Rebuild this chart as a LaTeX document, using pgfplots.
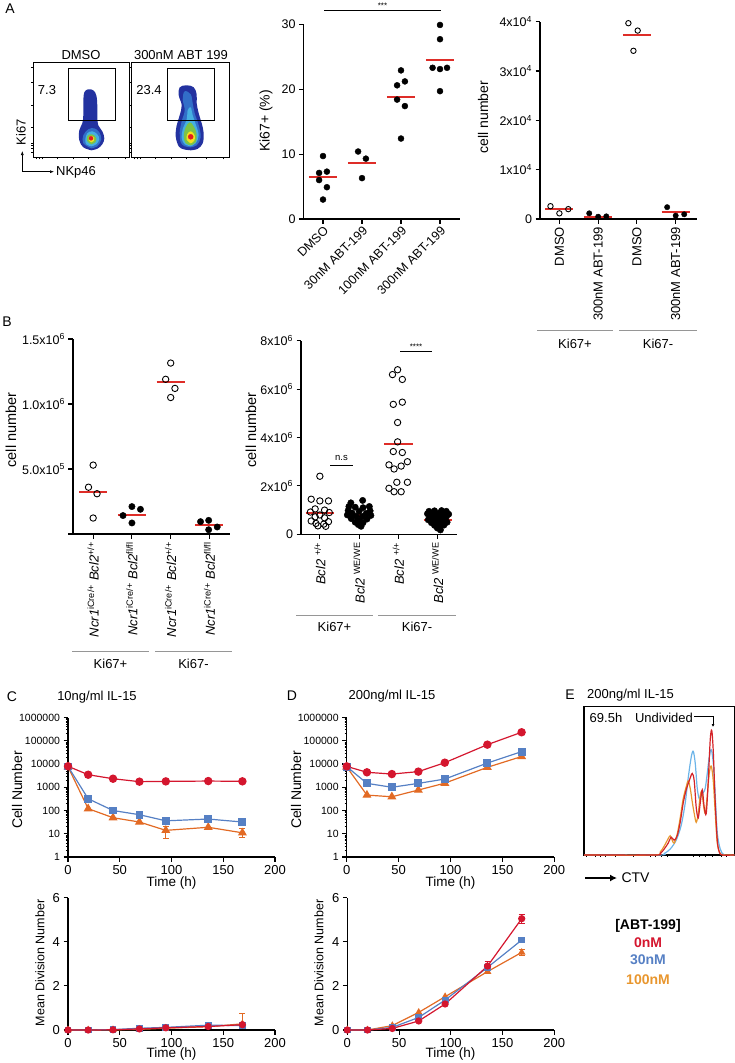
\documentclass[border=0pt]{standalone}
\usepackage{fontspec}
\setmainfont{Liberation Sans}
\usepackage{pgfplots}
\pgfplotsset{compat=1.18}
\usetikzlibrary{arrows.meta}

\definecolor{mred}{RGB}{222,45,40}
\definecolor{cred}{RGB}{212,22,46}
\definecolor{cblue}{RGB}{86,128,196}
\definecolor{corange}{RGB}{226,106,36}
\definecolor{hred}{RGB}{212,35,40}
\definecolor{hblue}{RGB}{108,180,232}
\definecolor{horange}{RGB}{232,150,46}
\definecolor{grp}{RGB}{150,150,150}
\definecolor{flblue}{RGB}{35,50,160}
\definecolor{flmid}{RGB}{50,110,200}
\definecolor{flcyan}{RGB}{70,175,225}
\definecolor{flgreen}{RGB}{125,195,70}
\definecolor{flyellow}{RGB}{245,225,30}
\definecolor{flred}{RGB}{225,30,30}

\newcommand\fs[1]{\fontsize{#1}{#1}\selectfont}

\pgfplotsset{
  prism/.style={scale only axis, anchor=south west, clip=false, enlargelimits=false,
    axis lines*=left, axis line style={line width=1.3pt},
    tick align=outside, major tick length=4.5pt, minor tick length=2.2pt,
    tick style={black, line width=1.1pt}, minor tick style={line width=0.6pt},
    tick label style={font=\fs{12.5}},
    /pgf/number format/assume math mode=true, scaled ticks=false},
  meanline/.style={mred, line width=2pt, forget plot},
  filled/.style={only marks, mark=*, black, mark size=3pt},
  opened/.style={only marks, mark=o, black, mark size=3pt, mark options={line width=0.9pt, fill=white}},
  flow/.style={scale only axis, anchor=south west, clip=false, enlargelimits=false,
    width=96pt, height=94.3pt, xmin=0, xmax=96, ymin=0, ymax=94.3,
    axis line style={line width=1pt}, tick align=outside, tick pos=left,
    major tick length=2pt, tick style={black, line width=0.6pt},
    xticklabels={}, yticklabels={},
    xtick={3,6,9,24,40,55,75,92}, ytick={5,9,12,14,30,52,75,90}},
  blob/.style={draw=none, fill=#1, smooth, tension=0.6, forget plot},
  sred/.style={cred, line width=1.2pt, mark=*, mark size=3.6pt},
  sblue/.style={cblue, line width=1.2pt, mark=square*, mark size=3.3pt},
  sorange/.style={corange, line width=1.2pt, mark=triangle*, mark size=4pt},
  errs/.style={error bars/.cd, y dir=both, y explicit,
    error bar style={line width=1pt}, error mark options={rotate=90, mark size=3pt, line width=1pt}},
  logy/.style={ymin=1, ymax=1e6,
    ytick={1,10,100,1000,10000,100000,1000000},
    yticklabels={1,10,100,1000,10000,100000,1000000},
    yticklabel style={font=\fs{10.5}},
    minor ytick={2,3,4,5,6,7,8,9,20,30,40,50,60,70,80,90,200,300,400,500,600,700,800,900,2000,3000,4000,5000,6000,7000,8000,9000,20000,30000,40000,50000,60000,70000,80000,90000,200000,300000,400000,500000,600000,700000,800000,900000},
    xmin=0, xmax=200, xtick={0,50,100,150,200}, xticklabel style={font=\fs{13}}},
  divy/.style={ymin=0, ymax=6, ytick={0,2,4,6}, xmin=0, xmax=200, xtick={0,50,100,150,200},
    tick label style={font=\fs{13}}},
}

\begin{document}
\begin{tikzpicture}[x=1pt, y=-1pt]
\path[use as bounding box] (0,0) rectangle (735,1063);

% ---------------- A: flow plots
\begin{axis}[flow, at={(33.3pt,-157.3pt)}]
\addplot[blob=flblue] coordinates {(58,7)(64,8.5)(69,13)(71,19)(69,26)(65,32)(64,40)(64,52)(63,62)(60,67)(55,68)(51,65)(50,55)(50,42)(49,34)(46,27)(46,17)(50,10)(58,7)};
\addplot[blob=flmid] coordinates {(58,9)(64,11)(68,18)(66,25)(61,29)(55,28)(50,22)(50,14)(58,9)};
\addplot[blob=flcyan] coordinates {(58,11)(63,13)(66,18)(64,23)(59,26)(54,24)(52,18)(53,13)(58,11)};
\addplot[blob=flgreen] coordinates {(58,13)(62,15)(63,19)(61,22)(57,23)(54,21)(54,16)(58,13)};
\addplot[blob=flyellow] coordinates {(58,15)(60.5,16.5)(61,19.5)(58,21.5)(55.5,20)(55.5,17)(58,15)};
\addplot[only marks, mark=*, flred, mark size=2pt] coordinates {(57.7,19)};
\draw[line width=1pt] (axis cs:35,37) rectangle (axis cs:82.4,88.6);
\end{axis}
\begin{axis}[flow, at={(131.7pt,-157.3pt)}, width=97.6pt, xmax=97.6]
\addplot[blob=flblue] coordinates {(59,7)(66,8.5)(71,14)(72,24)(70,34)(67,44)(65,54)(65,63)(62,70)(55,72)(48,70)(47,62)(50,52)(48,42)(45,32)(44,21)(47,11)(52,8)(59,7)};
\addplot[blob=flmid] coordinates {(59,10)(65,12)(69,20)(67,32)(63,44)(61,54)(59,63)(53,66)(51,58)(53,47)(50,36)(48,25)(49,15)(53,11)(59,10)};
\addplot[blob=flcyan] coordinates {(59,11)(64,14)(67,22)(64,33)(61,42)(59,50)(56,47)(55,38)(51,28)(50,19)(53,13)(59,11)};
\addplot[blob=flgreen] coordinates {(59,12)(64,15)(65,23)(62,31)(58,35)(54,30)(52,21)(54,14)(59,12)};
\addplot[blob=flyellow] coordinates {(59,14)(62.5,16.5)(63,22)(59,26)(55.5,23)(55,17.5)(59,14)};
\addplot[only marks, mark=*, flred, mark size=2.5pt] coordinates {(59,20.5)};
\draw[line width=1pt] (axis cs:35.6,37) rectangle (axis cs:82.3,88.6);
\end{axis}
\node[font=\fs{14}] at (10,9) {A};
\node[font=\fs{13}] at (81,55) {DMSO};
\node[font=\fs{13}] at (181,55) {300nM ABT 199};
\node[font=\fs{13}] at (47,90) {7.3};
\node[font=\fs{13}] at (149,90) {23.4};
\draw[line width=0.6pt, -{Latex[length=4pt,width=3pt]}] (22.3,171.7) -- (22.3,151);
\draw[line width=0.6pt, -{Latex[length=4pt,width=3pt]}] (22.3,171.7) -- (54,171.7);
\node[rotate=90, font=\fs{13}] at (21,132) {Ki67};
\node[font=\fs{13}] at (76,172) {NKp46};

% ---------------- A: Ki67+ (%)
\begin{axis}[prism, at={(303.5pt,-219pt)}, width=156pt, height=194.7pt,
  xmin=-0.5, xmax=3.5, ymin=0, ymax=30, ytick={0,10,20,30},
  xtick={0,1,2,3}, xticklabels={DMSO,30nM ABT-199,100nM ABT-199,300nM ABT-199},
  xticklabel style={rotate=45, anchor=north east, inner sep=1pt}]
\addplot[filled] coordinates {(0,9.7)(-0.1,7.1)(0.1,7.3)(-0.1,6.0)(0.1,4.9)(0,3.0)};
\addplot[filled] coordinates {(0.9,10.4)(1.1,9.3)(1,6.3)};
\addplot[filled] coordinates {(2,22.9)(1.9,20.6)(2.1,21.2)(1.9,18.4)(2.1,17.4)(2,12.4)};
\addplot[filled] coordinates {(3,29.9)(3,27.7)(2.81,23.3)(3,23.1)(3.18,23.3)(3,19.7)};
\addplot[meanline] coordinates {(-0.36,6.4)(0.36,6.4)};
\addplot[meanline] coordinates {(0.64,8.7)(1.36,8.7)};
\addplot[meanline] coordinates {(1.64,18.8)(2.36,18.8)};
\addplot[meanline] coordinates {(2.64,24.5)(3.36,24.5)};
\end{axis}
\draw[line width=0.8pt] (324,10.7) -- (441,10.7);
\node[font=\fs{8}] at (382.5,5.5) {***};
\node[rotate=90, font=\fs{14}] at (266,121) {Ki67+ (\%)};

% ---------------- A: cell number
\begin{axis}[prism, at={(540pt,-219pt)}, width=157pt, height=197.3pt,
  xmin=-0.5, xmax=3.55, ymin=0, ymax=40000,
  ytick={0,10000,20000,30000,40000},
  yticklabels={0,1x10\textsuperscript{4},2x10\textsuperscript{4},3x10\textsuperscript{4},4x10\textsuperscript{4}},
  xtick={0,1,2,3}, xticklabels={DMSO,300nM ABT-199,DMSO,300nM ABT-199},
  xticklabel style={rotate=90, anchor=east, font=\fs{13}}]
\addplot[opened, mark size=2.7pt] coordinates {(-0.23,2600)(0.0,1150)(0.23,2000)};
\addplot[filled, mark size=2.7pt] coordinates {(0.77,1150)(1.0,470)(1.21,540)};
\addplot[opened, mark size=2.7pt] coordinates {(1.78,39700)(2.02,38200)(1.91,34100)};
\addplot[filled, mark size=2.7pt] coordinates {(2.78,2400)(3.0,680)(3.22,950)};
\addplot[meanline] coordinates {(-0.36,1960)(0.36,1960)};
\addplot[meanline] coordinates {(0.64,500)(1.36,500)};
\addplot[meanline] coordinates {(1.64,37400)(2.36,37400)};
\addplot[meanline] coordinates {(2.64,1350)(3.36,1350)};
\end{axis}
\node[rotate=90, font=\fs{14}] at (483,117) {cell number};
\draw[grp, line width=1pt] (537,330) -- (613,330);
\draw[grp, line width=1pt] (619,330) -- (697,330);
\node[font=\fs{13}] at (575,344) {Ki67+};
\node[font=\fs{13}] at (658,344) {Ki67-};

% ---------------- B: Ncr1 cell number
\begin{axis}[prism, at={(73pt,-534pt)}, width=157pt, height=195pt,
  xmin=-0.52, xmax=3.53, ymin=0, ymax=1500000,
  ytick={0,500000,1000000,1500000},
  yticklabels={,5.0x10\textsuperscript{5},1.0x10\textsuperscript{6},1.5x10\textsuperscript{6}},
  xtick={0,1,2,3},
  xticklabels={\textit{Ncr1}\textsuperscript{iCre/+} \textit{Bcl2}\textsuperscript{+/+},
    \textit{Ncr1}\textsuperscript{iCre/+} \textit{Bcl2}\textsuperscript{fl/fl},
    \textit{Ncr1}\textsuperscript{iCre/+} \textit{Bcl2}\textsuperscript{+/+},
    \textit{Ncr1}\textsuperscript{iCre/+} \textit{Bcl2}\textsuperscript{fl/fl}},
  xticklabel style={rotate=90, anchor=east, font=\fs{13}}]
\addplot[opened, mark size=3.2pt] coordinates {(0,530000)(-0.12,360000)(0.1,310000)(0,123000)};
\addplot[filled, mark size=3.2pt] coordinates {(0.77,142000)(1.0,211000)(1.22,190000)(1.0,85000)};
\addplot[opened, mark size=3.2pt] coordinates {(2,1315000)(1.87,1190000)(2.11,1120000)(2,1050000)};
\addplot[filled, mark size=3.2pt] coordinates {(2.77,95000)(2.98,105000)(2.98,33000)(3.2,54000)};
\addplot[meanline] coordinates {(-0.36,320000)(0.36,320000)};
\addplot[meanline] coordinates {(0.64,148000)(1.36,148000)};
\addplot[meanline] coordinates {(1.64,1170000)(2.36,1170000)};
\addplot[meanline] coordinates {(2.64,72000)(3.36,72000)};
\end{axis}
\node[font=\fs{14}] at (7,322) {B};
\node[rotate=90, font=\fs{14.5}] at (11,430) {cell number};
\draw[grp, line width=1pt] (72,651.7) -- (149,651.7);
\draw[grp, line width=1pt] (155,651.7) -- (232,651.7);
\node[font=\fs{13}] at (110.5,664) {Ki67+};
\node[font=\fs{13}] at (193.5,664) {Ki67-};

% ---------------- B: Bcl2 WE cell number
\begin{axis}[prism, at={(301pt,-534.3pt)}, width=156.3pt, height=193.6pt,
  xmin=-0.48, xmax=3.5, ymin=0, ymax=8000000,
  ytick={0,2000000,4000000,6000000,8000000},
  yticklabels={0,2x10\textsuperscript{6},4x10\textsuperscript{6},6x10\textsuperscript{6},8x10\textsuperscript{6}},
  xtick={0,1,2,3},
  xticklabels={\textit{Bcl2} \textsuperscript{+/+},\textit{Bcl2} \textsuperscript{WE/WE},\textit{Bcl2} \textsuperscript{+/+},\textit{Bcl2} \textsuperscript{WE/WE}},
  xticklabel style={rotate=90, anchor=east, font=\fs{13}}]
\addplot[opened, mark size=3.2pt] coordinates {(0,2.4e6)(-0.22,1.45e6)(0,1.38e6)(0.22,1.38e6)(-0.12,1.05e6)(0.12,1.0e6)(-0.24,0.92e6)(0.24,0.9e6)(0,0.8e6)(-0.12,0.72e6)(0.12,0.68e6)(-0.22,0.55e6)(0.22,0.52e6)(-0.1,0.45e6)(0.1,0.42e6)(-0.05,0.35e6)(0.15,0.33e6)};
\addplot[filled, mark size=3.2pt] coordinates {(1.09,1.4e6)(0.79,1.3e6)(0.74,1.15e6)(1.26,1.15e6)(0.9,1.12e6)(1.1,1.1e6)(0.72,0.98e6)(1.28,0.97e6)(1,0.95e6)(0.82,0.88e6)(1.18,0.86e6)(0.7,0.8e6)(1.3,0.78e6)(0.92,0.75e6)(1.08,0.73e6)(0.8,0.65e6)(1.2,0.63e6)(1,0.58e6)(0.9,0.5e6)(1.1,0.48e6)(0.98,0.4e6)(1.05,0.33e6)};
\addplot[opened, mark size=3.2pt] coordinates {(1.98,6.8e6)(1.85,6.6e6)(2.1,6.4e6)(1.87,5.37e6)(2.1,5.46e6)(1.98,4.62e6)(1.98,3.82e6)(1.87,3.42e6)(2.1,3.38e6)(1.76,2.87e6)(2.23,3.0e6)(1.89,2.7e6)(2.07,2.82e6)(1.76,1.9e6)(1.89,1.76e6)(2.07,1.76e6)(1.96,2.15e6)(2.23,2.15e6)};
\addplot[filled, mark size=3.2pt] coordinates {(2.78,0.95e6)(2.92,0.97e6)(3.1,0.98e6)(3.22,0.95e6)(2.74,0.85e6)(2.88,0.84e6)(3.02,0.86e6)(3.16,0.84e6)(3.28,0.83e6)(2.8,0.72e6)(2.94,0.73e6)(3.08,0.71e6)(3.22,0.72e6)(2.76,0.6e6)(2.9,0.61e6)(3.04,0.59e6)(3.18,0.6e6)(2.84,0.48e6)(2.98,0.49e6)(3.12,0.47e6)(3.24,0.5e6)(2.92,0.37e6)(3.06,0.36e6)(3.16,0.38e6)(2.99,0.26e6)(3.07,0.18e6)};
\addplot[meanline] coordinates {(-0.36,0.9e6)(0.36,0.9e6)};
\addplot[meanline] coordinates {(0.64,0.8e6)(1.36,0.8e6)};
\addplot[meanline] coordinates {(1.64,3.72e6)(2.36,3.72e6)};
\addplot[meanline] coordinates {(2.64,0.6e6)(3.36,0.6e6)};
\end{axis}
\node[rotate=90, font=\fs{14.5}] at (251,430) {cell number};
\draw[line width=0.8pt] (330,465) -- (353,465);
\node[font=\fs{9.5}] at (341.5,458) {n.s};
\draw[line width=0.8pt] (400,351.7) -- (432,351.7);
\node[font=\fs{8}] at (416,346.5) {****};
\draw[grp, line width=1pt] (296,615) -- (373,615);
\draw[grp, line width=1pt] (378,615) -- (456,615);
\node[font=\fs{13}] at (334.5,627) {Ki67+};
\node[font=\fs{13}] at (417,627) {Ki67-};

% ---------------- C: 10 ng/ml IL-15
\begin{axis}[prism, ymode=log, logy, at={(68pt,-857pt)}, width=207pt, height=139.5pt]
\addplot[sorange, errs] coordinates {(0,7600) (19.5,120) (43.5,49) (69,32) (94.5,14) += (0,6) -= (0,8) (135.5,19) (168.5,11) += (0,6) -= (0,4)};
\addplot[sblue, errs] coordinates {(0,7800) (19.5,320) (43.5,100) (69,66) (94.5,36) (135.5,43) (168.5,32) += (0,6) -= (0,6)};
\addplot[sred] coordinates {(0,8000)(19.5,3460)(43.5,2330)(69,1740)(94.5,1790)(135.5,1850)(168.5,1800)};
\end{axis}
\node[font=\fs{14}] at (12,697) {C};
\node[font=\fs{13}] at (97,697) {10ng/ml IL-15};
\node[rotate=90, font=\fs{14}] at (17,790) {Cell Number};
\node[font=\fs{13.5}] at (171.5,883) {Time (h)};

\begin{axis}[prism, divy, at={(68pt,-1030pt)}, width=207pt, height=132.3pt]
\addplot[sorange, mark size=3.2pt, errs] coordinates {(0,0) (19.5,0) (43.5,0.01) (69,0.03) (94.5,0.08) (135.5,0.15) (168.5,0.28) += (0,0.45) -= (0,0.05)};
\addplot[sblue, mark size=2.8pt] coordinates {(0,0)(19.5,0)(43.5,0.02)(69,0.08)(94.5,0.12)(135.5,0.22)(168.5,0.2)};
\addplot[sred, mark size=3pt] coordinates {(0,0)(19.5,0)(43.5,0.01)(69,0.05)(94.5,0.1)(135.5,0.16)(168.5,0.24)};
\end{axis}
\node[rotate=90, font=\fs{12.5}] at (40,963) {Mean Division Number};
\node[font=\fs{13.5}] at (171.5,1054) {Time (h)};

% ---------------- D: 200 ng/ml IL-15
\begin{axis}[prism, ymode=log, logy, at={(346.7pt,-857pt)}, width=207.6pt, height=139.5pt]
\addplot[sorange] coordinates {(0,7500)(19.5,460)(43.5,390)(69,760)(94.5,1500)(135.5,7200)(168.5,21000)};
\addplot[sblue] coordinates {(0,7700)(19.5,1470)(43.5,1000)(69,1470)(94.5,2250)(135.5,11000)(168.5,34000)};
\addplot[sred] coordinates {(0,7900)(19.5,4400)(43.5,3700)(69,4700)(94.5,11400)(135.5,68000)(168.5,232000)};
\end{axis}
\node[font=\fs{14}] at (292,696) {D};
\node[font=\fs{13}] at (392,696) {200ng/ml IL-15};
\node[rotate=90, font=\fs{14}] at (296,790) {Cell Number};
\node[font=\fs{13.5}] at (450.5,883) {Time (h)};

\begin{axis}[prism, divy, at={(347.3pt,-1030pt)}, width=207pt, height=132.3pt]
\addplot[sorange, mark size=3.2pt, errs] coordinates {(0,0) (19.5,0) (43.5,0.2) (69,0.8) (94.5,1.51) (135.5,2.65) += (0,0.1) -= (0,0.1) (168.5,3.52) += (0,0.12) -= (0,0.12)};
\addplot[sblue, mark size=2.8pt] coordinates {(0,0)(19.5,0)(43.5,0.12)(69,0.57)(94.5,1.36)(135.5,2.84)(168.5,4.08)};
\addplot[sred, mark size=3pt, errs] coordinates {(0,0) (19.5,0) (43.5,0.07) (69,0.41) (94.5,1.18) (135.5,2.9) += (0,0.22) -= (0,0.22) (168.5,5.05) += (0,0.2) -= (0,0.2)};
\end{axis}
\node[rotate=90, font=\fs{12.5}] at (319,963) {Mean Division Number};
\node[font=\fs{13.5}] at (450.5,1054) {Time (h)};

% ---------------- E: CTV histogram
\begin{axis}[scale only axis, anchor=south west, clip=false, enlargelimits=false,
  at={(584pt,-855pt)}, width=150.3pt, height=148.3pt, xmin=0, xmax=150, ymin=0, ymax=1,
  axis line style={line width=1.1pt}, tick align=outside, xtick pos=bottom, ytick=\empty,
  major tick length=2pt, tick style={black, line width=0.6pt}, xticklabels={},
  xtick={2,11,16,21,31,49,66,71,77,83,109,115,121,128,137,142}]
\addplot[hblue, line width=1.2pt, smooth, tension=0.5] coordinates {(0,0)(74,0)(80,0.01)(86,0.04)(92,0.1)(97,0.2)(101,0.35)(104,0.52)(107,0.66)(109,0.70)(111,0.62)(113,0.45)(115,0.38)(117,0.40)(119,0.42)(121,0.45)(123,0.55)(125,0.66)(127,0.71)(129,0.62)(131,0.4)(133,0.15)(136,0.04)(140,0)(150,0)};
\addplot[horange, line width=1.2pt, smooth, tension=0.5] coordinates {(0,0)(70,0)(76,0.02)(80,0.06)(84,0.11)(86,0.13)(88,0.1)(90,0.08)(93,0.14)(96,0.25)(99,0.38)(102,0.46)(104,0.50)(106,0.45)(108,0.36)(110,0.28)(112,0.22)(114,0.28)(116,0.4)(117.5,0.43)(119,0.35)(121,0.28)(123,0.4)(125,0.55)(127,0.6)(129,0.5)(131,0.28)(133,0.08)(136,0.01)(140,0)(150,0)};
\addplot[hred, line width=1.2pt, smooth, tension=0.5] coordinates {(0,0)(70,0)(76,0.01)(80,0.04)(84,0.08)(87,0.12)(90,0.10)(93,0.13)(96,0.22)(99,0.35)(102,0.44)(105,0.50)(108,0.55)(110,0.50)(112,0.32)(114,0.25)(116,0.35)(118,0.44)(120,0.32)(122,0.28)(124,0.5)(126,0.78)(127.5,0.84)(129,0.7)(131,0.35)(133,0.1)(135,0.02)(138,0)(150,0)};
\end{axis}
\node[font=\fs{14}] at (570,695) {E};
\node[font=\fs{13}] at (630.5,695) {200ng/ml IL-15};
\node[font=\fs{13}] at (606,718) {69.5h};
\node[font=\fs{13}] at (664,718) {Undivided};
\draw[line width=0.7pt, -{Latex[length=3pt,width=3pt]}] (694,716) -- (713,716) -- (713,727);
\draw[line width=2pt, -{Latex[length=7pt,width=7pt]}] (585,878) -- (617,878);
\node[anchor=west, font=\fs{14}] at (618,878) {CTV};

% legend
\node[font=\bfseries\fs{14}] at (648,926) {[ABT-199]};
\node[font=\bfseries\fs{14}, text=cred] at (648,943) {0nM};
\node[font=\bfseries\fs{14}, text=cblue] at (648,960) {30nM};
\node[font=\bfseries\fs{14}, text=horange] at (648,980) {100nM};
\end{tikzpicture}
\end{document}
